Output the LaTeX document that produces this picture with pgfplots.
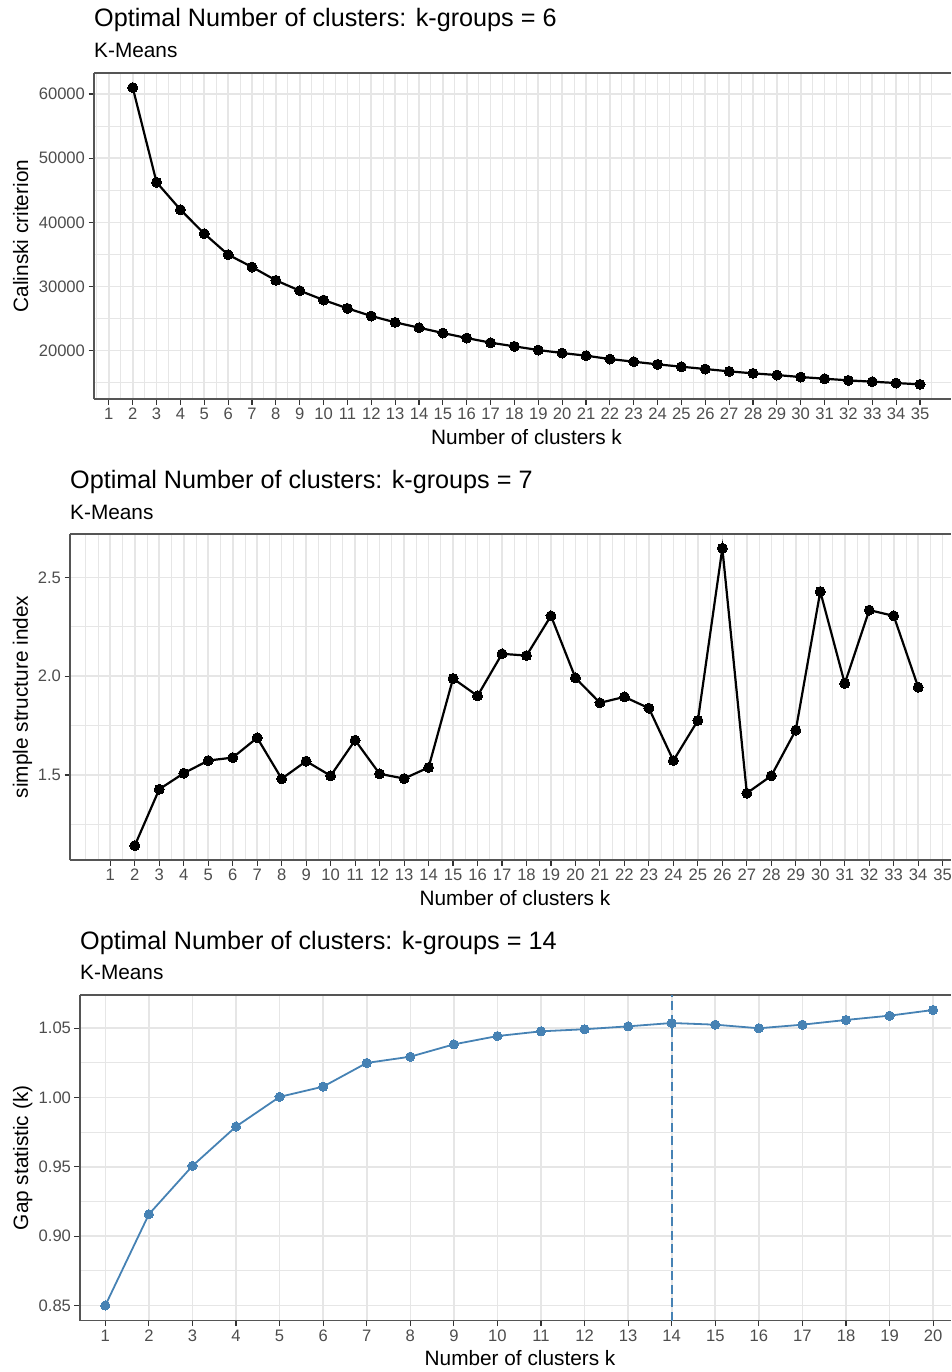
\documentclass[border=0pt]{standalone}
\usepackage{fontspec}
\setmainfont{Liberation Sans}
\usepackage{pgfplots}
\pgfplotsset{compat=1.18}
\definecolor{gridc}{HTML}{E6E6E6}
\definecolor{borderc}{HTML}{555555}
\definecolor{tickc}{HTML}{333333}
\definecolor{labc}{HTML}{4D4D4D}
\definecolor{steel}{HTML}{4682B4}
\pgfplotsset{
  gg/.style={
    scale only axis, anchor=north west,
    axis x line*=box, axis y line*=left,
    tick align=outside, tick pos=left,
    major tick length=5.5pt, minor tick length=0pt,
    tick style={color=tickc, line width=1.1pt},
    axis line style={color=borderc, line width=1.2pt},
    grid=both,
    major grid style={color=gridc, line width=1.6pt},
    minor grid style={color=gridc, line width=0.9pt},
    tick label style={font=\fontsize{16.6}{18}\selectfont, text=labc},
    /pgf/number format/assume math mode=true,
    every axis x label/.style={font=\fontsize{20.8}{24}\selectfont, anchor=base},
    every axis y label/.style={font=\fontsize{20.8}{24}\selectfont, rotate=90, anchor=base},
    clip=false,
  },
}
\begin{document}
\begin{tikzpicture}[x=1pt,y=1pt]
\path[use as bounding box] (0,0) rectangle (951,-1372);

% ---------- Panel 1 ----------
\node[anchor=base west, inner sep=0, font=\fontsize{25.2}{30}\selectfont] at (94,-27) {Optimal Number of clusters: k-groups = 6};
\node[anchor=base west, inner sep=0, font=\fontsize{20.8}{24}\selectfont] at (94,-57.5) {K-Means};
\begin{axis}[gg, at={(94pt,-73pt)}, width=857pt, height=326pt,
  xmin=0.377, xmax=36.30, ymin=12473, ymax=63270,
  xtick={1,...,35}, minor xtick={0.5,1.5,...,36.5},
  ytick={20000,30000,40000,50000,60000}, minor ytick={15000,25000,35000,45000,55000},
  scaled y ticks=false,
  yticklabel style={/pgf/number format/.cd, fixed, 1000 sep={}},
  xlabel={Number of clusters k}, ylabel={Calinski criterion},
  xlabel style={at={(axis description cs:0.5047,-0.1396)}},
  ylabel style={at={(axis description cs:-0.0770,0.5)}},
]
\addplot[black, line width=2.2pt, mark=*, mark size=5pt, mark options={fill=black, draw=black, line width=0pt}] coordinates {
(2,61000) (3,46240) (4,41975) (5,38234) (6,34961) (7,33040) (8,30962) (9,29352)
(10,27897) (11,26598) (12,25404) (13,24417) (14,23585) (15,22754) (16,21975)
(17,21248) (18,20676) (19,20105) (20,19637) (21,19221) (22,18702) (23,18287)
(24,17871) (25,17507) (26,17144) (27,16781) (28,16469) (29,16209) (30,15897)
(31,15637) (32,15378) (33,15170) (34,14962) (35,14754)};
\end{axis}

% ---------- Panel 2 ----------
\node[anchor=base west, inner sep=0, font=\fontsize{25.2}{30}\selectfont] at (70,-488) {Optimal Number of clusters: k-groups = 7};
\node[anchor=base west, inner sep=0, font=\fontsize{20.8}{24}\selectfont] at (70,-519) {K-Means};
\begin{axis}[gg, at={(70pt,-534pt)}, width=881pt, height=326pt,
  xmin=-0.646, xmax=35.34, ymin=1.07, ymax=2.719,
  xtick={1,...,35}, minor xtick={0,0.5,1.5,...,35.5},
  ytick={1.5,2.0,2.5}, minor ytick={1.25,1.75,2.25},
  yticklabel style={/pgf/number format/.cd, fixed, fixed zerofill, precision=1},
  xlabel={Number of clusters k}, ylabel={simple structure index},
  xlabel style={at={(axis description cs:0.5051,-0.1396)}},
  ylabel style={at={(axis description cs:-0.0477,0.5)}},
]
\addplot[black, line width=2.2pt, mark=*, mark size=5pt, mark options={fill=black, draw=black, line width=0pt}] coordinates {
(2,1.143) (3,1.428) (4,1.509) (5,1.573) (6,1.588) (7,1.688) (8,1.481) (9,1.570)
(10,1.496) (11,1.676) (12,1.506) (13,1.482) (14,1.538) (15,1.988) (16,1.900)
(17,2.113) (18,2.104) (19,2.305) (20,1.991) (21,1.865) (22,1.895) (23,1.838)
(24,1.573) (25,1.776) (26,2.647) (27,1.408) (28,1.496) (29,1.727) (30,2.428)
(31,1.963) (32,2.334) (33,2.305) (34,1.944)};
\end{axis}

% ---------- Panel 3 ----------
\node[anchor=base west, inner sep=0, font=\fontsize{25.2}{30}\selectfont] at (80,-949) {Optimal Number of clusters: k-groups = 14};
\node[anchor=base west, inner sep=0, font=\fontsize{20.8}{24}\selectfont] at (80,-979.5) {K-Means};
\begin{axis}[gg, at={(80pt,-995pt)}, width=871pt, height=325.7pt,
  xmin=0.419, xmax=20.41, ymin=0.839, ymax=1.074,
  xtick={1,...,20}, minor xtick={},
  xminorgrids=false,
  ytick={0.85,0.90,0.95,1.00,1.05}, minor ytick={0.875,0.925,0.975,1.025},
  yticklabel style={/pgf/number format/.cd, fixed, fixed zerofill, precision=2},
  xlabel={Number of clusters k}, ylabel={Gap statistic (k)},
  xlabel style={at={(axis description cs:0.5052,-0.1376)}},
  ylabel style={at={(axis description cs:-0.0597,0.5)}},
]
\addplot[steel, line width=1.8pt, dash pattern=on 9pt off 4.5pt] coordinates {(14,0.839) (14,1.074)};
\addplot[steel, line width=1.8pt, mark=*, mark size=4.6pt, mark options={fill=steel, draw=steel, line width=0pt, solid}] coordinates {
(1,0.8500) (2,0.9158) (3,0.9507) (4,0.9791) (5,1.0005) (6,1.0079) (7,1.0250)
(8,1.0295) (9,1.0384) (10,1.0444) (11,1.0478) (12,1.0493) (13,1.0514) (14,1.0538)
(15,1.0526) (16,1.0500) (17,1.0526) (18,1.0560) (19,1.0591) (20,1.0632)};
\end{axis}
\end{tikzpicture}
\end{document}
